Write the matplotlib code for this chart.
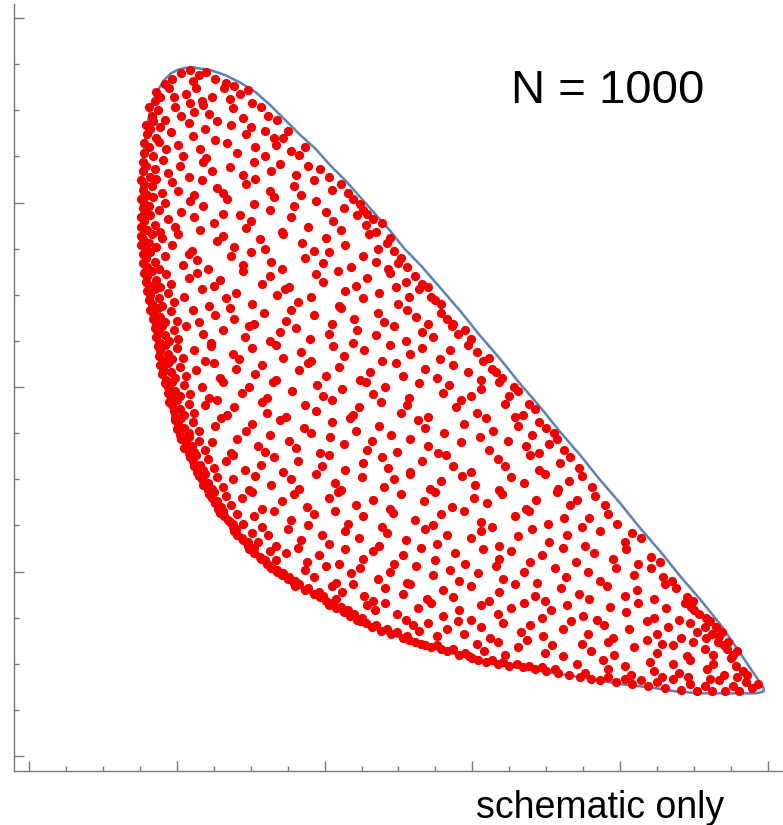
import matplotlib.pyplot as plt
from matplotlib.ticker import MultipleLocator

plt.rcParams['font.family'] = ['Liberation Sans', 'DejaVu Sans']

# boundary of the allowed region (arbitrary units, major tick = 100)
edge_x = [112, 122, 133, 143, 153, 163, 173, 183, 194, 204, 214, 224, 234, 244,
          254, 265, 278, 292, 305, 319, 332, 346, 359, 373, 386, 400, 413, 427,
          440, 454, 468, 481, 491, 497,
          497, 492, 484, 470, 454, 438, 422, 400, 378, 355, 332, 307, 285,
          263, 240, 217, 206, 195, 186, 177, 168, 158, 150, 143, 135, 127, 120,
          114, 108, 102, 96, 91, 87, 84, 81, 78, 77, 76, 76, 76, 77, 79, 82, 86,
          91, 96, 101, 106, 112]
edge_y = [373, 372, 369, 365, 360, 353, 345, 337, 329, 320, 312, 303, 294, 285,
          275, 266, 254, 241, 228, 215, 202, 189, 176, 163, 150, 137, 124, 111,
          98, 85, 71, 56, 44, 37,
          35, 34, 34, 34, 34, 35, 37, 39, 42, 45, 48, 51, 56,
          61, 67, 75, 80, 86, 90, 94, 99, 105, 111, 117, 126, 135, 144,
          153, 163, 173, 189, 204, 220, 235, 247, 258, 271, 285, 296, 307, 323, 337, 350, 359,
          366, 370, 372, 373, 373]

# sampled points, read band by band from top to bottom
dots = [
    (97, 367), (103, 370), (109, 372), (115, 369), (120, 371), (126, 367), (133, 365), (92, 364), (111, 366), (139, 363),
    (86, 360), (85, 355), (89, 357), (95, 362), (98, 357), (106, 359), (113, 362), (117, 355), (124, 357), (132, 362),
    (136, 356), (143, 359), (151, 354), (148, 361), (109, 354),
    (81, 352), (83, 347), (87, 350), (84, 344), (92, 345), (99, 352), (103, 347), (112, 349), (118, 353), (122, 348),
    (127, 344), (138, 351), (145, 346), (157, 352), (162, 347), (168, 345),
    (79, 342), (80, 337), (82, 340), (86, 335), (89, 341), (96, 338), (108, 343), (111, 336), (119, 340), (126, 334),
    (137, 342), (147, 337), (150, 341), (160, 339), (166, 335), (172, 335), (175, 339),
    (78, 332), (78, 327), (81, 330), (84, 325), (88, 333), (93, 329), (101, 331), (104, 325), (116, 329), (120, 324),
    (134, 332), (141, 327), (153, 330), (160, 325), (167, 331), (177, 328), (183, 326), (187, 330),
    (77, 322), (77, 317), (79, 320), (82, 314), (85, 318), (91, 323), (94, 316), (102, 320), (108, 314), (118, 322),
    (124, 317), (136, 319), (145, 315), (152, 322), (164, 317), (170, 321), (181, 315), (189, 320), (197, 318), (203, 314),
    (76, 312), (77, 307), (78, 310), (80, 304), (83, 309), (86, 313), (90, 305), (97, 311), (101, 306), (112, 304),
    (117, 312), (127, 308), (131, 305), (147, 310), (153, 313), (163, 306), (179, 309), (184, 304), (193, 312), (205, 307),
    (211, 310), (216, 305),
    (76, 302), (77, 297), (78, 300), (79, 294), (81, 298), (84, 303), (88, 296), (92, 300), (103, 295), (109, 301),
    (118, 298), (131, 294), (134, 302), (152, 299), (163, 296), (166, 303), (179, 298), (194, 301), (201, 295), (213, 297),
    (219, 302), (224, 299), (229, 294), (226, 296),
    (76, 292), (76, 287), (78, 290), (80, 285), (82, 293), (85, 288), (89, 284), (94, 291), (99, 287), (112, 292),
    (116, 285), (125, 289), (143, 293), (147, 286), (150, 290), (171, 284), (177, 292), (189, 287), (206, 290), (211, 285),
    (222, 293), (228, 288), (235, 284), (239, 289), (233, 291),
    (76, 282), (76, 277), (77, 280), (79, 274), (81, 278), (83, 283), (86, 276), (90, 281), (97, 277), (101, 283),
    (110, 274), (127, 279), (131, 282), (139, 276), (156, 280), (160, 275), (172, 283), (185, 278), (193, 274), (201, 281),
    (214, 277), (230, 283), (236, 275), (242, 278), (247, 274), (244, 281),
    (77, 272), (77, 267), (79, 270), (80, 265), (82, 273), (85, 268), (88, 264), (92, 271), (104, 266), (108, 272),
    (114, 269), (121, 264), (137, 271), (145, 266), (150, 273), (164, 268), (171, 264), (187, 270), (199, 267), (203, 273),
    (218, 265), (226, 271), (235, 268), (243, 264), (250, 267), (256, 265), (252, 270),
    (78, 262), (79, 257), (80, 260), (82, 255), (83, 263), (86, 258), (89, 254), (93, 261), (96, 256), (108, 259),
    (114, 262), (125, 255), (129, 258), (145, 263), (158, 256), (163, 260), (176, 254), (194, 261), (199, 257), (209, 263),
    (221, 255), (229, 259), (244, 262), (248, 254), (255, 257), (261, 260), (266, 256), (270, 254),
    (80, 252), (81, 247), (82, 250), (83, 245), (85, 253), (88, 248), (90, 244), (94, 251), (98, 246), (105, 249),
    (117, 253), (122, 244), (133, 248), (140, 251), (151, 245), (168, 250), (173, 253), (182, 246), (191, 249), (210, 244),
    (214, 252), (226, 248), (237, 251), (250, 245), (257, 249), (264, 253), (272, 249), (279, 245), (275, 247),
    (82, 242), (84, 237), (84, 240), (86, 234), (87, 243), (89, 238), (92, 235), (96, 241), (100, 236), (111, 242),
    (115, 235), (126, 239), (136, 243), (139, 237), (152, 234), (159, 240), (174, 236), (177, 242), (193, 239), (205, 234),
    (211, 243), (220, 237), (236, 240), (240, 235), (256, 242), (262, 238), (270, 234), (279, 240), (287, 234), (283, 237),
    (85, 232), (86, 227), (87, 230), (89, 224), (90, 233), (92, 228), (95, 225), (98, 231), (101, 226), (106, 233),
    (118, 229), (123, 224), (131, 231), (146, 227), (149, 233), (163, 225), (170, 230), (181, 232), (190, 226), (203, 229),
    (219, 224), (222, 231), (235, 228), (247, 233), (255, 225), (266, 230), (273, 227), (286, 233), (290, 229), (299, 226),
    (295, 231),
    (87, 222), (88, 217), (89, 220), (91, 214), (92, 223), (94, 218), (97, 215), (100, 221), (104, 216), (112, 220),
    (119, 214), (123, 222), (138, 218), (142, 215), (151, 221), (167, 223), (172, 216), (184, 219), (191, 214), (206, 222),
    (213, 217), (227, 220), (239, 214), (244, 223), (258, 218), (266, 221), (278, 215), (285, 220), (297, 223), (303, 219),
    (311, 216), (307, 214),
    (89, 212), (90, 207), (91, 210), (93, 204), (94, 213), (96, 208), (99, 205), (102, 211), (106, 206), (113, 209),
    (125, 213), (129, 205), (140, 210), (153, 207), (158, 212), (167, 204), (183, 209), (189, 213), (201, 206), (210, 211),
    (224, 204), (231, 208), (248, 213), (253, 206), (268, 210), (276, 205), (287, 212), (297, 208), (306, 204), (313, 210),
    (320, 205), (316, 208),
    (92, 202), (94, 197), (94, 200), (96, 194), (97, 203), (99, 198), (102, 195), (105, 201), (109, 196), (117, 200),
    (122, 194), (131, 203), (144, 197), (149, 200), (161, 194), (165, 203), (178, 198), (195, 201), (199, 195), (212, 199),
    (228, 203), (233, 196), (241, 200), (257, 194), (264, 202), (280, 197), (284, 201), (299, 195), (306, 199), (318, 203),
    (325, 195), (331, 198), (328, 200),
    (95, 192), (98, 187), (97, 190), (99, 184), (100, 193), (102, 188), (105, 185), (108, 191), (112, 186), (119, 190),
    (127, 193), (134, 185), (139, 189), (158, 192), (161, 186), (174, 184), (187, 190), (194, 187), (205, 193), (219, 185),
    (223, 189), (238, 192), (252, 186), (256, 190), (270, 184), (289, 189), (292, 193), (303, 186), (322, 191), (329, 184),
    (334, 185), (342, 188), (338, 191),
    (99, 182), (100, 177), (101, 180), (102, 174), (103, 183), (105, 178), (108, 175), (111, 181), (115, 176), (126, 179),
    (130, 183), (147, 176), (151, 180), (163, 174), (170, 182), (186, 178), (191, 175), (205, 181), (217, 183), (221, 176),
    (237, 179), (245, 174), (263, 182), (268, 178), (281, 175), (294, 180), (309, 183), (314, 176), (331, 179), (340, 174),
    (345, 181), (350, 178), (355, 175),
    (103, 172), (105, 167), (106, 170), (108, 164), (108, 173), (110, 168), (112, 165), (115, 171), (119, 166), (124, 170),
    (137, 164), (141, 172), (155, 168), (160, 165), (176, 171), (181, 167), (197, 164), (204, 173), (213, 169), (229, 166),
    (232, 171), (249, 165), (258, 172), (270, 168), (277, 164), (292, 170), (305, 173), (311, 166), (324, 171), (336, 168),
    (345, 164), (352, 169), (362, 166), (357, 172),
    (109, 162), (112, 157), (111, 160), (114, 154), (113, 163), (116, 158), (118, 155), (121, 161), (125, 156), (133, 160),
    (138, 163), (146, 155), (157, 158), (166, 162), (172, 154), (182, 160), (198, 157), (203, 163), (214, 155), (226, 159),
    (239, 162), (243, 156), (258, 154), (266, 160), (282, 163), (287, 157), (299, 154), (317, 161), (322, 157), (339, 163),
    (345, 155), (359, 159), (372, 156), (366, 162),
    (115, 152), (118, 147), (117, 150), (121, 144), (119, 153), (121, 148), (124, 145), (127, 151), (131, 146), (138, 150),
    (149, 144), (153, 152), (164, 147), (177, 150), (183, 145), (194, 153), (207, 148), (211, 144), (225, 151), (240, 146),
    (247, 150), (258, 153), (271, 145), (279, 149), (293, 152), (302, 147), (318, 144), (326, 151), (335, 148), (349, 153),
    (358, 145), (365, 149), (381, 146), (374, 152),
    (122, 142), (126, 137), (124, 140), (128, 134), (125, 143), (127, 138), (130, 135), (133, 141), (137, 136), (144, 140),
    (151, 143), (158, 134), (171, 138), (179, 142), (188, 135), (203, 140), (209, 143), (221, 136), (233, 139), (244, 134),
    (252, 142), (267, 138), (275, 143), (286, 135), (301, 140), (310, 137), (320, 142), (336, 134), (343, 139), (357, 143),
    (366, 136), (371, 139), (390, 136), (383, 141),
    (129, 132), (136, 127), (132, 130), (138, 124), (131, 133), (135, 128), (138, 126), (141, 131), (145, 126), (152, 130),
    (158, 124), (166, 133), (177, 128), (189, 125), (193, 131), (207, 133), (216, 126), (226, 130), (239, 124), (246, 132),
    (261, 128), (273, 125), (279, 131), (294, 133), (306, 127), (313, 124), (329, 130), (338, 133), (351, 126), (362, 129),
    (374, 124), (379, 129), (398, 126), (392, 131),
    (139, 122), (144, 118), (141, 120), (148, 114), (140, 123), (145, 117), (148, 116), (151, 121), (155, 116), (162, 120),
    (167, 114), (175, 123), (184, 117), (198, 120), (203, 115), (214, 122), (223, 118), (237, 114), (242, 121), (255, 117),
    (268, 123), (276, 115), (283, 120), (299, 118), (306, 122), (318, 114), (331, 119), (340, 123), (352, 116), (364, 120),
    (376, 114), (386, 122), (403, 116), (414, 118), (408, 121),
    (149, 112), (156, 108), (152, 110), (161, 104), (152, 113), (157, 107), (160, 106), (163, 111), (167, 106), (174, 110),
    (182, 113), (188, 105), (196, 109), (210, 104), (214, 112), (226, 107), (233, 111), (247, 104), (253, 109), (265, 113),
    (275, 106), (288, 110), (295, 104), (307, 112), (318, 107), (326, 111), (339, 105), (347, 109), (361, 113), (370, 105),
    (382, 110), (395, 107), (404, 112), (412, 104), (421, 108), (427, 105),
    (164, 102), (168, 100), (171, 98), (175, 96), (179, 94), (164, 103), (168, 101), (172, 99), (176, 97), (180, 95),
    (187, 101), (193, 97), (201, 103), (208, 94), (218, 99), (224, 102), (236, 96), (244, 100), (256, 94), (262, 103),
    (273, 98), (285, 101), (291, 95), (304, 99), (316, 103), (321, 96), (335, 100), (344, 94), (356, 102), (363, 97),
    (378, 100), (386, 95), (397, 102), (409, 98), (421, 102), (429, 97), (435, 95),
    (180, 92), (183, 93), (187, 90), (189, 91), (193, 88), (196, 89), (197, 86), (199, 87), (201, 84), (205, 92),
    (208, 85), (212, 89), (219, 93), (227, 87), (233, 84), (241, 91), (253, 88), (258, 93), (269, 85), (280, 90),
    (287, 86), (299, 92), (311, 84), (318, 89), (329, 93), (342, 87), (349, 84), (360, 91), (372, 88), (379, 85),
    (391, 92), (403, 87), (411, 90), (423, 85), (430, 93), (438, 91), (445, 86), (449, 84),
    (203, 82), (205, 83), (208, 80), (211, 81), (213, 78), (216, 79), (217, 76), (220, 77), (222, 74), (225, 75),
    (229, 82), (234, 79), (241, 83), (249, 77), (255, 74), (263, 80), (272, 83), (280, 76), (291, 79), (299, 74),
    (306, 82), (317, 77), (326, 80), (335, 83), (347, 75), (353, 79), (364, 82), (375, 76), (384, 74), (393, 81),
    (404, 78), (412, 83), (423, 75), (431, 80), (440, 74), (444, 83), (448, 81), (453, 77), (458, 75), (450, 79),
    (224, 73), (228, 72), (232, 70), (235, 71), (238, 68), (242, 69), (245, 66), (249, 67), (253, 64), (256, 65),
    (260, 71), (264, 68), (270, 72), (276, 65), (283, 69), (290, 73), (294, 66), (306, 70), (312, 64), (321, 72),
    (333, 67), (339, 71), (348, 65), (361, 69), (367, 73), (378, 66), (389, 71), (395, 64), (406, 69), (418, 73),
    (425, 66), (432, 70), (441, 64), (447, 72), (452, 67), (457, 70), (461, 73), (462, 66), (467, 65), (465, 70),
    (458, 64), (469, 67),
    (257, 63), (261, 62), (265, 61), (268, 60), (272, 59), (276, 60), (279, 58), (283, 57), (287, 58), (291, 55),
    (295, 56), (298, 54), (303, 61), (308, 57), (317, 62), (322, 55), (331, 59), (337, 63), (349, 56), (354, 60),
    (361, 54), (374, 61), (380, 57), (392, 62), (396, 55), (409, 59), (418, 63), (425, 56), (436, 60), (445, 54),
    (449, 62), (457, 58), (466, 62), (472, 58), (463, 55), (476, 55), (473, 62), (479, 57), (470, 60), (428, 61),
    (300, 53), (304, 52), (309, 51), (313, 52), (317, 50), (321, 51), (325, 49), (330, 50), (334, 48), (338, 49),
    (342, 47), (347, 48), (350, 46), (356, 47), (358, 45), (365, 44), (371, 50), (376, 45), (388, 52), (392, 47),
    (403, 49), (407, 44), (420, 51), (423, 46), (436, 50), (440, 45), (447, 52), (459, 47), (463, 50), (470, 44),
    (478, 49), (483, 46), (486, 44), (475, 53),
    (373, 43), (380, 42), (386, 41), (392, 43), (397, 40), (403, 42), (408, 39), (414, 41), (419, 38), (425, 40),
    (430, 37), (436, 42), (441, 36), (447, 39), (452, 35), (457, 38), (462, 35), (467, 41), (471, 35), (476, 38),
    (480, 35), (485, 40), (489, 37), (493, 39), (479, 43), (461, 42), (446, 43), (428, 43),
]
dot_x = [p[0] for p in dots]
dot_y = [p[1] for p in dots]

count_label = "N = 1000"
note_label = "schematic only"

fig = plt.figure(figsize=(7.83, 8.25), dpi=100)
ax = fig.add_axes([14 / 783, 54 / 825, 769 / 783, 767 / 825])

ax.plot(edge_x, edge_y, color='#5E81B5', lw=1.8, zorder=1)
ax.scatter(dot_x, dot_y, s=44, color='#f00000', linewidths=0, zorder=2)

ax.set_xlim(-10.1, 510.1)
ax.set_ylim(-8.1, 407.6)

ax.xaxis.set_major_locator(MultipleLocator(100))
ax.xaxis.set_minor_locator(MultipleLocator(25))
ax.yaxis.set_major_locator(MultipleLocator(100))
ax.yaxis.set_minor_locator(MultipleLocator(25))
ax.tick_params(which='both', direction='in', color='#777777', width=1,
               labelbottom=False, labelleft=False, top=False, right=False)
ax.tick_params(which='major', length=7)
ax.tick_params(which='minor', length=3.6)

for side in ['top', 'right']:
    ax.spines[side].set_visible(False)
for side in ['left', 'bottom']:
    ax.spines[side].set_color('#777777')
    ax.spines[side].set_linewidth(1)

ax.text(0.646, 0.871, count_label, transform=ax.transAxes,
        fontsize=34, ha='left', va='baseline')
fig.text(0.608, 0.0085, note_label, fontsize=27, ha='left', va='baseline')

fig.savefig('out.png', dpi=100)
